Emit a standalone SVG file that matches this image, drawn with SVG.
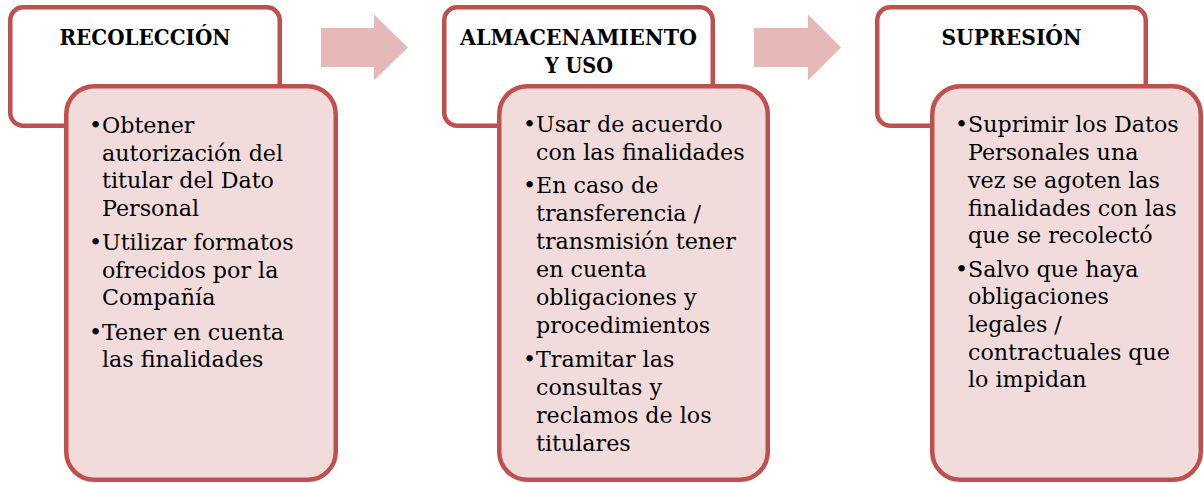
<svg xmlns="http://www.w3.org/2000/svg" width="1204" height="483" viewBox="0 0 1204 483">
<style>
.hdr{fill:#FFFFFF;stroke:#C0504D;stroke-width:4.5}
.box{fill:#F2DCDB;stroke:#C0504D;stroke-width:4.5}
.arrow{fill:#E6B9B8}
.title{font-family:"DejaVu Serif","Liberation Serif",serif;font-weight:bold;font-size:23px;fill:#000;text-anchor:middle}
.body{font-family:"DejaVu Serif","Liberation Serif",serif;font-size:22.2px;fill:#000}
</style>
<rect width="1204" height="483" fill="#FFFFFF"/>
<g id="connectors">
<polygon class="arrow" points="321,28 374,28 374,14.5 408,47.5 374,80.5 374,67 321,67"/>
<polygon class="arrow" points="754,28 808,28 808,14.5 841,47.5 808,80.5 808,67 754,67"/>
</g>
<g id="recoleccion">
<rect class="hdr" x="10.25" y="7.25" width="269.5" height="118.5" rx="13"/>
<text class="title" x="145" y="45" textLength="171" lengthAdjust="spacingAndGlyphs">RECOLECCIÓN</text>
<rect class="box" x="66.25" y="86.25" width="269.5" height="393.5" rx="28"/>
<g class="body">
<text x="89" y="133">•</text><text x="102" y="133">Obtener</text>
<text x="102" y="160.5">autorización del</text>
<text x="102" y="188">titular del Dato</text>
<text x="102" y="215.5">Personal</text>
<text x="89" y="250">•</text><text x="102" y="250">Utilizar formatos</text>
<text x="102" y="277.5">ofrecidos por la</text>
<text x="102" y="305">Compañía</text>
<text x="89" y="339.5">•</text><text x="102" y="339.5">Tener en cuenta</text>
<text x="102" y="367">las finalidades</text>
</g>
</g>
<g id="almacenamiento">
<rect class="hdr" x="444.25" y="7.25" width="268.5" height="118.5" rx="13"/>
<text class="title" x="578.5" y="45" textLength="237" lengthAdjust="spacingAndGlyphs">ALMACENAMIENTO</text>
<text class="title" x="579" y="73" textLength="68" lengthAdjust="spacingAndGlyphs">Y USO</text>
<rect class="box" x="499.25" y="86.25" width="268.5" height="393.5" rx="28"/>
<g class="body">
<text x="523" y="132">•</text><text x="536" y="132">Usar de acuerdo</text>
<text x="536" y="159.5">con las finalidades</text>
<text x="523" y="193">•</text><text x="536" y="193">En caso de</text>
<text x="536" y="221">transferencia /</text>
<text x="536" y="249">transmisión tener</text>
<text x="536" y="277">en cuenta</text>
<text x="536" y="305">obligaciones y</text>
<text x="536" y="332.5">procedimientos</text>
<text x="523" y="367">•</text><text x="536" y="367">Tramitar las</text>
<text x="536" y="395">consultas y</text>
<text x="536" y="423">reclamos de los</text>
<text x="536" y="451">titulares</text>
</g>
</g>
<g id="supresion">
<rect class="hdr" x="877.25" y="7.25" width="268.5" height="118.5" rx="13"/>
<text class="title" x="1011.5" y="45" textLength="140" lengthAdjust="spacingAndGlyphs">SUPRESIÓN</text>
<rect class="box" x="932.25" y="86.25" width="268.5" height="393.5" rx="28"/>
<g class="body">
<text x="955" y="132">•</text><text x="968" y="132">Suprimir los Datos</text>
<text x="968" y="160">Personales una</text>
<text x="968" y="188">vez se agoten las</text>
<text x="968" y="215.5">finalidades con las</text>
<text x="968" y="243">que se recolectó</text>
<text x="955" y="277">•</text><text x="968" y="277">Salvo que haya</text>
<text x="968" y="304">obligaciones</text>
<text x="968" y="331.5">legales /</text>
<text x="968" y="359.5">contractuales que</text>
<text x="968" y="387">lo impidan</text>
</g>
</g>
</svg>
